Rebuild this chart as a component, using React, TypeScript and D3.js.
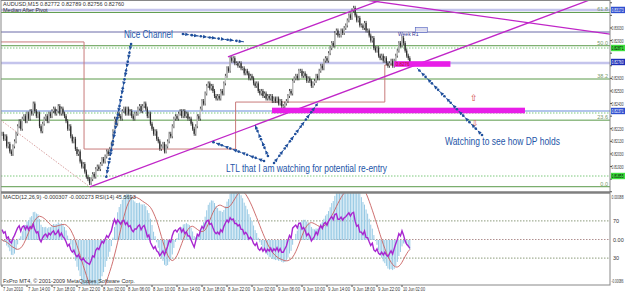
import React from "react";
import * as d3 from "d3";

// ---- DATA ----
const closes = [
  0.8219, 0.8215, 0.8217, 0.8209, 0.8211, 0.8205, 0.8203, 0.8209, 0.8213, 0.8219, 0.8225,
  0.8229, 0.8223, 0.8231, 0.8233, 0.8229, 0.8235, 0.8231, 0.8237, 0.8235, 0.8243,
  0.8237, 0.8233, 0.8235, 0.8225, 0.8221, 0.8227, 0.8231, 0.8233, 0.8229, 0.8235,
  0.8233, 0.8237, 0.8239, 0.8235, 0.8237, 0.8241, 0.8235, 0.8239, 0.8235, 0.8233,
  0.8229, 0.8223, 0.8225, 0.8217, 0.8213, 0.8215, 0.8207, 0.8203, 0.8205, 0.8197,
  0.8193, 0.8195, 0.8189, 0.8185, 0.8183, 0.818, 0.8183, 0.8187, 0.8185, 0.8191,
  0.8193, 0.8191, 0.8195, 0.8199, 0.8197, 0.8201, 0.8205, 0.8203, 0.8207, 0.8211,
  0.8221, 0.8231, 0.8227, 0.8235, 0.8233, 0.8231, 0.8237, 0.8239, 0.8235, 0.8239,
  0.8235, 0.8237, 0.8233, 0.8231, 0.8235, 0.8235, 0.8239, 0.8241, 0.8237, 0.8241,
  0.8243, 0.8239, 0.8233, 0.8235, 0.8227, 0.8223, 0.8219, 0.8221, 0.8215, 0.8213,
  0.8207, 0.8209, 0.8211, 0.8205, 0.8209, 0.8213, 0.8219, 0.8217, 0.8225, 0.8231,
  0.8233, 0.8231, 0.8235, 0.8237, 0.8233, 0.8237, 0.8233, 0.8235, 0.8231, 0.8231,
  0.8227, 0.8223, 0.8219, 0.8225, 0.8233, 0.8231, 0.8239, 0.8245, 0.8243, 0.8251,
  0.8257, 0.8259, 0.8255, 0.8257, 0.8253, 0.8249, 0.8247, 0.8249, 0.8247, 0.8253,
  0.8251, 0.8259, 0.8265, 0.8271, 0.8269, 0.8279, 0.8277, 0.8279, 0.8275, 0.8275,
  0.8273, 0.8275, 0.8271, 0.8271, 0.8267, 0.8269, 0.8267, 0.8263, 0.8265, 0.8263,
  0.8259, 0.8257, 0.8259, 0.8253, 0.8251, 0.8253, 0.8249, 0.8251, 0.8247, 0.8249,
  0.8247, 0.8249, 0.8245, 0.8247, 0.8245, 0.8247, 0.8243, 0.8245, 0.8241, 0.8241,
  0.8243, 0.8245, 0.8249, 0.8253, 0.8251, 0.8261, 0.8263, 0.8265, 0.8263, 0.8269,
  0.8269, 0.8265, 0.8267, 0.8265, 0.8261, 0.8263, 0.8261, 0.8257, 0.8259, 0.8261,
  0.8265, 0.8263, 0.8269, 0.8273, 0.8271, 0.8277, 0.8279, 0.8277, 0.8283, 0.8287,
  0.8291, 0.8289, 0.8299, 0.8301, 0.8297, 0.8297, 0.8301, 0.8299, 0.8303, 0.8305,
  0.8309, 0.8313, 0.8311, 0.8317, 0.8319, 0.8313, 0.8309, 0.8311, 0.8305, 0.8305,
  0.8303, 0.8307, 0.8301, 0.8301, 0.8297, 0.8293, 0.8295, 0.8287, 0.8285, 0.8287,
  0.8281, 0.8279, 0.8281, 0.8277, 0.8279, 0.8275, 0.8273, 0.8275, 0.8277, 0.8273,
  0.8277, 0.8281, 0.8285, 0.8291, 0.8289, 0.8295, 0.8291, 0.8285, 0.8281, 0.8279, 0.8276,
];

const timeLabels = [
  "7 Jun 2010", "7 Jun 14:00", "7 Jun 18:00", "7 Jun 22:00", "8 Jun 02:00", "8 Jun 06:00",
  "8 Jun 10:00", "8 Jun 14:00", "8 Jun 18:00", "8 Jun 22:00", "9 Jun 02:00", "9 Jun 06:00",
  "9 Jun 10:00", "9 Jun 14:00", "9 Jun 18:00", "9 Jun 22:00", "10 Jun 02:00",
];
const barsPerLabel = 16;

const priceTicks = [0.8323, 0.8313, 0.8303, 0.8293, 0.8283, 0.8273, 0.8263, 0.8253, 0.8243,
  0.8233, 0.8223, 0.8213, 0.8203, 0.8193, 0.8183, 0.8173];

const fibLow = 0.8177;
const fibHigh = 0.84008;
const fibLevels = [0, 23.6, 38.2, 50, 61.8];

const pivotPrices = [0.82919, 0.82069, 0.82442, 0.82736];
const pivotStartBars = [-2, 52.5, 149.5, 245];

const lavenderLines = [0.83173, 0.82752];
const slateLines = [0.82998];
const blueLines = [0.82371];
const greenDottedLines = [0.82871, 0.82355, 0.81855];
const lastPrice = 0.8276;

const channelLower: [number, number][] = [[56.3, 0.81768], [376, 0.83252]];
const channelUpper: [number, number][] = [[144.6, 0.828], [240, 0.8324]];
const topDownLine: [number, number][] = [[237, 0.83244], [389, 0.82982]];
const dottedTrend: [number, number][] = [[-1, 0.8230], [56.3, 0.81768]];

const magentaBars = [
  { from: 251, to: 287, price: 0.82744 },
  { from: 172.8, to: 334.7, price: 0.82375 },
];

const arrowChains: [number, number, number, number][] = [
  [82.6, 0.82903, 66.6, 0.81839],
  [115.8, 0.82982, 155.5, 0.82919],
  [167.7, 0.81974, 135, 0.82125],
  [170.2, 0.82014, 161.9, 0.8226],
  [174.1, 0.81958, 202.2, 0.82434],
  [307.2, 0.8218, 265.6, 0.82712],
];

const notes = [
  { text: "Nice Channel", bar: 78, price: 0.82951, len: 49 },
  { text: "LTL that I am watching for potential re-entry", bar: 143.4, price: 0.81887, len: 161 },
  { text: "Watching to see how DP holds", bar: 283.5, price: 0.82101, len: 115 },
];

const macdRange = [-0.00086, 0.00088];
const rsiLevels = [70, 50, 30];

// ---- INDICATORS (MACD 12,26,9 and RSI 14 of the closes) ----
function ema(a: number[], n: number) {
  const k = 2 / (n + 1);
  const out: number[] = [];
  a.forEach((v, i) => out.push(i === 0 ? v : v * k + out[i - 1] * (1 - k)));
  return out;
}
const e12 = ema(closes, 12);
const e26 = ema(closes, 26);
const macd = closes.map((_, i) => e12[i] - e26[i]);
const signal = macd.map((_, i) => d3.mean(macd.slice(Math.max(0, i - 8), i + 1)) as number);
const rsi: number[] = [];
{
  const ch = closes.slice(1).map((c, i) => c - closes[i]);
  let g = d3.mean(ch.slice(0, 14).map((v) => Math.max(v, 0))) as number;
  let l = d3.mean(ch.slice(0, 14).map((v) => Math.max(-v, 0))) as number;
  rsi.push(100 - 100 / (1 + g / l));
  ch.forEach((v) => {
    g = (g * 13 + Math.max(v, 0)) / 14;
    l = (l * 13 + Math.max(-v, 0)) / 14;
    rsi.push(l === 0 ? 100 : 100 - 100 / (1 + g / l));
  });
}

// ---- LAYOUT ----
const W = 625, H = 292;
const L = 1, R = 610, T = 0, B = 192;
const ST = 193, SB = 285;

export default function App() {
  const x = d3.scaleLinear().domain([0, 256]).range([2, 402]);
  const y = d3.scaleLinear().domain([0.81728, 0.83252]).range([192, 0]);
  const ym = d3.scaleLinear().domain(macdRange).range([283, 196]);
  const yr = d3.scaleLinear().domain([0, 100]).range([286, 193]);
  const font = "'Liberation Sans', Arial, sans-serif";
  const tiny = 5.5;

  const extLine = (pts: [number, number][], toBar: number, fromBar?: number) => {
    const [[b1, p1], [b2, p2]] = pts;
    const s = (p2 - p1) / (b2 - b1);
    const fb = fromBar ?? b1;
    return { x1: x(fb), y1: y(p1 + s * (fb - b1)), x2: x(toBar), y2: y(p1 + s * (toBar - b1)) };
  };

  const chain = (c: [number, number, number, number], key: number) => {
    const x1 = x(c[0]), y1 = y(c[1]), x2 = x(c[2]), y2 = y(c[3]);
    const len = Math.hypot(x2 - x1, y2 - y1);
    const ux = (x2 - x1) / len, uy = (y2 - y1) / len;
    const ang = (Math.atan2(uy, ux) * 180) / Math.PI;
    const els: JSX.Element[] = [];
    els.push(<line key="l" x1={x1} y1={y1} x2={x2} y2={y2} stroke="#1f4f9c" strokeWidth={1} strokeDasharray="2,1.5" />);
    let k = 0;
    for (let d = 0; d <= len + 0.1; d += 4.5, k++) {
      const px = x1 + ux * d, py = y1 + uy * d;
      if (k % 2 === 0) els.push(<circle key={"c" + k} cx={px} cy={py} r={1.3} fill="#1f4f9c" />);
      else els.push(<path key={"a" + k} d="M-2.2,-1.8 L1.8,0 L-2.2,1.8 Z" fill="#1f4f9c" transform={`translate(${px},${py}) rotate(${ang})`} />);
    }
    return <g key={key}>{els}</g>;
  };

  const fibPrice = (lv: number) => fibLow + (fibHigh - fibLow) * (lv / 100);

  const bodies = closes.map((c, i) => {
    const o = i > 0 ? closes[i - 1] : c;
    const yTop = y(Math.max(o, c)), yBot = y(Math.min(o, c));
    const xi = x(i);
    return (
      <g key={i}>
        <line x1={xi} x2={xi} y1={yTop - 2} y2={yBot + 2} stroke="#3a3a3a" strokeWidth={0.9} />
        <rect x={xi - 0.6} width={1.2} y={yTop} height={Math.max(0.8, yBot - yTop)} fill={c >= o ? "#c0c0c0" : "#2a2a2a"} />
      </g>
    );
  });

  const pivotPath = (() => {
    let d = "";
    pivotPrices.forEach((p, k) => {
      const xs = x(pivotStartBars[k]);
      const xe = k + 1 < pivotPrices.length ? x(pivotStartBars[k + 1]) : x(262);
      d += (k === 0 ? "M" : "L") + `${xs},${y(p)}`;
      d += `L${xe},${y(p)}`;
    });
    return d;
  })();

  const macdBars = macd.map((m, i) => (
    <line key={i} x1={x(i)} x2={x(i)} y1={ym(0)} y2={ym(m)} stroke="#96c9e4" strokeWidth={1} />
  ));
  const sigLine = d3.line<number>().x((_, i) => x(i)).y((v) => ym(v))(signal) || "";
  const rsiLine = d3.line<number>().x((_, i) => x(i)).y((v) => yr(v))(rsi) || "";

  const hl = (p: number, color: string, w: number, dash?: string, k?: string) => (
    <line key={k} x1={L} x2={R} y1={y(p)} y2={y(p)} stroke={color} strokeWidth={w} strokeDasharray={dash} />
  );

  const axisText = (yy: number, txt: string, k: string, fill = "#333") => (
    <text key={k} x={611.5} y={yy} fontSize={tiny} fill={fill} fontFamily={font} textLength={12} lengthAdjust="spacingAndGlyphs">{txt}</text>
  );

  const boxes = [
    { p: lavenderLines[0], bg: "#2f4fd0", fg: "#fff" },
    { p: greenDottedLines[0], bg: "#3ee03e", fg: "#000" },
    { p: lastPrice, bg: "#1e2fb8", fg: "#fff" },
    { p: blueLines[0], bg: "#2f4fd0", fg: "#fff" },
    { p: greenDottedLines[2], bg: "#3ee03e", fg: "#000" },
  ];
  const freeTicks = priceTicks.filter((p) => boxes.every((b) => Math.abs(y(b.p) - y(p)) > 6.5));

  return (
    <div style={{ position: "absolute", left: 0, top: 0, background: "#fff" }}>
      <svg width={W} height={H} style={{ display: "block" }}>
        <defs>
          <clipPath id="main"><rect x={L} y={T} width={R - L} height={B - T} /></clipPath>
          <clipPath id="sub"><rect x={L} y={ST} width={R - L} height={SB - ST} /></clipPath>
        </defs>
        <rect width={W} height={H} fill="#fff" />

        {/* main pane */}
        <g clipPath="url(#main)">
          {lavenderLines.map((p, k) => hl(p, "#c4c4ec", 2.5, undefined, "lv" + k))}
          {slateLines.map((p, k) => hl(p, "#6a6aa8", 1, undefined, "sl" + k))}
          {blueLines.map((p, k) => hl(p, "#9ab0e6", 1.5, undefined, "bl" + k))}
          {greenDottedLines.map((p, k) => hl(p, "#7cc87c", 1, "1.5,1.5", "gd" + k))}
          {fibLevels.map((lv) => hl(fibPrice(lv), "#5a9a4a", 1, undefined, "fb" + lv))}
          <path d={pivotPath} fill="none" stroke="#c87a7a" strokeWidth={1} />
          {(() => { const l = extLine(dottedTrend, dottedTrend[1][0]); return <line {...l} stroke="#d8a0a0" strokeWidth={1} strokeDasharray="1.5,1.5" />; })()}
          {bodies}
          {(() => { const l = extLine(channelLower, 440); return <line {...l} stroke="#c026c8" strokeWidth={1.3} />; })()}
          {(() => { const l = extLine(channelUpper, 300); return <line {...l} stroke="#c026c8" strokeWidth={1.3} />; })()}
          {(() => { const l = extLine(topDownLine, 440, 220); return <line {...l} stroke="#c026c8" strokeWidth={1.3} />; })()}
          {magentaBars.map((m, k) => (
            <rect key={k} x={x(m.from)} width={x(m.to) - x(m.from)} y={y(m.price) - 2.8} height={5.6} fill="#e81ee8" />
          ))}
          <text x={x(252)} y={y(0.82744) + 2} fontSize={4.5} fill="#c01010" fontFamily={font}>0.8276</text>
          {arrowChains.map((c, k) => chain(c, k))}
          {notes.map((n, k) => (
            <text key={k} x={x(n.bar)} y={y(n.price)} fontSize={10} fill="#2456a8" fontFamily={font}
              textLength={n.len} lengthAdjust="spacingAndGlyphs">{n.text}</text>
          ))}
          <text x={x(253.4)} y={y(0.82982) + 2} fontSize={5} fill="#303090" fontFamily={font}>Week R1</text>
          <rect x={x(264.5)} y={y(0.83015) - 2.5} width={12} height={5} fill="#dde" stroke="#5060c0" strokeWidth={0.6} />
          <text x={x(302)} y={y(0.82482) + 4} fontSize={9} fill="#d04040" fontFamily="DejaVu Sans" textAnchor="middle">⇧</text>
          <text x={x(302.6)} y={y(0.82284) + 4} fontSize={8} fill="#d04040" fontFamily="DejaVu Sans" textAnchor="middle">⇩</text>
          {fibLevels.map((lv) => (
            <text key={"fl" + lv} x={R - 2} y={y(fibPrice(lv)) - 1} fontSize={tiny} fill="#7a9a6a" textAnchor="end" fontFamily={font}>
              {lv.toFixed(1)}
            </text>
          ))}
          <text x={3} y={6} fontSize={tiny} fill="#333" fontFamily={font}>AUDUSD,M15  0.82772 0.82789 0.82756 0.82760</text>
          <text x={3} y={11.5} fontSize={tiny} fill="#333" fontFamily={font}>Median After Pivot</text>
        </g>

        {/* sub pane */}
        <g clipPath="url(#sub)">
          {rsiLevels.map((lv) => (
            <line key={lv} x1={L} x2={R} y1={yr(lv)} y2={yr(lv)} stroke={lv === 50 ? "#b09090" : "#8a9a7a"} strokeWidth={1} strokeDasharray="1.5,1.5" />
          ))}
          {macdBars}
          <path d={sigLine} fill="none" stroke="#c86060" strokeWidth={0.9} />
          <path d={rsiLine} fill="none" stroke="#a826d0" strokeWidth={1.4} />
          <text x={3} y={199} fontSize={tiny} fill="#333" fontFamily={font}>
            MACD(12,26,9) -0.000307 -0.000273  RSI(14) 45.5693
          </text>
          <text x={3} y={283} fontSize={tiny} fill="#333" fontFamily={font}>FxPro MT4, © 2001-2009 MetaQuotes Software Corp.</text>
        </g>

        {/* frames */}
        <rect x={L} y={T + 0.5} width={R - L} height={B - T - 0.5} fill="none" stroke="#888" strokeWidth={1} />
        <line x1={L} x2={R} y1={192.5} y2={192.5} stroke="#777" strokeWidth={2} />
        <rect x={L} y={ST} width={R - L} height={SB - ST} fill="none" stroke="#888" strokeWidth={1} />

        {/* right axis main */}
        {priceTicks.map((p) => (
          <line key={"tk" + p} x1={R} x2={R + 2} y1={y(p)} y2={y(p)} stroke="#555" />
        ))}
        {freeTicks.filter((p) => y(p) > 3 && y(p) < 189).map((p) => axisText(y(p) + 2, p.toFixed(5), "pt" + p))}
        {boxes.map((b, k) => (
          <g key={"bx" + k}>
            <rect x={611} y={y(b.p) - 3.2} width={14} height={6.4} fill={b.bg} />
            {axisText(y(b.p) + 2, b.p.toFixed(5), "bt" + k, b.fg)}
          </g>
        ))}

        {/* right axis sub */}
        {axisText(ym(macdRange[1]) + 3, macdRange[1].toFixed(5), "mt1")}
        {axisText(ym(macdRange[0]), macdRange[0].toFixed(5), "mt0")}
        {rsiLevels.map((lv) => (
          <text key={"rl" + lv} x={613} y={yr(lv) + 2} fontSize={tiny} fill="#333" fontFamily={font}>
            {lv === 50 ? "0.00" : lv}
          </text>
        ))}

        {/* time axis */}
        {timeLabels.map((t, k) => (
          <g key={t}>
            <line x1={x(k * barsPerLabel)} x2={x(k * barsPerLabel)} y1={SB} y2={SB + 2} stroke="#555" />
            <text x={x(k * barsPerLabel) + 1} y={291} fontSize={tiny} fill="#333" fontFamily={font}
              textLength={t.length > 10 ? 22 : 20} lengthAdjust="spacingAndGlyphs">{t}</text>
          </g>
        ))}
      </svg>
    </div>
  );
}
